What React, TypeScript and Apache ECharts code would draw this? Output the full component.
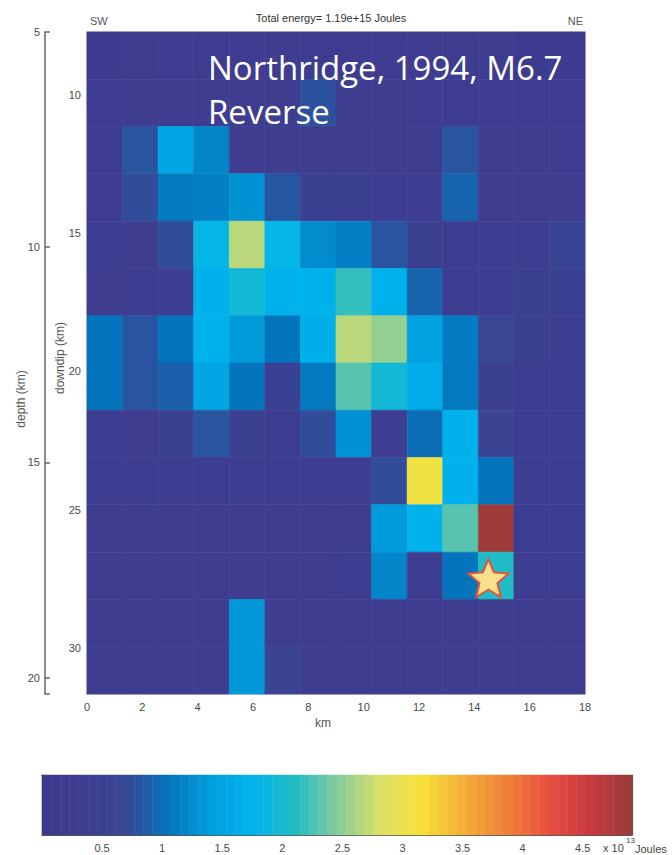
import React, { useEffect, useRef } from "react";
import * as echarts from "echarts";

// ---- axes / ticks ----
const X_TICKS = [0, 2, 4, 6, 8, 10, 12, 14, 16, 18];
const DOWNDIP_TICKS = [10, 15, 20, 25, 30];
const DEPTH_TICKS = [5, 10, 15, 20];
const COLORBAR_TICKS = [0.5, 1, 1.5, 2, 2.5, 3, 3.5, 4, 4.5];

const X_MIN = 0;
const X_MAX = 18;
const DOWNDIP_MIN = 7.73;
const DOWNDIP_MAX = 31.66;
const DEPTH_MIN = 5;
const DIP_DEG = 40;
const ENERGY_MAX = 4.91; // x 10^13 Joules

// ---- radiated energy per subfault (x 10^13 J); rows shallow -> deep, columns SW -> NE ----
const ENERGY_ROWS: number[][] = [
  [0.2, 0.25, 0.3, 0.3, 0.3, 0.35, 0.3, 0.3, 0.3, 0.3, 0.25, 0.25, 0.2, 0.2],
  [0.3, 0.35, 0.35, 0.35, 0.35, 0.35, 0.78, 0.35, 0.35, 0.3, 0.3, 0.3, 0.3, 0.3],
  [0.3, 0.8, 1.55, 1.2, 0.35, 0.35, 0.35, 0.35, 0.35, 0.35, 0.8, 0.35, 0.35, 0.3],
  [0.3, 0.75, 1.1, 1.15, 1.3, 0.82, 0.45, 0.45, 0.4, 0.4, 0.92, 0.35, 0.35, 0.35],
  [0.4, 0.35, 0.75, 1.8, 2.68, 1.8, 1.25, 1.15, 0.8, 0.45, 0.4, 0.4, 0.4, 0.62],
  [0.35, 0.4, 0.4, 1.7, 1.95, 1.72, 1.72, 2.17, 1.72, 0.92, 0.4, 0.4, 0.45, 0.5],
  [1.05, 0.8, 1.05, 1.72, 1.38, 1.05, 1.68, 2.68, 2.52, 1.45, 1.12, 0.65, 0.45, 0.4],
  [1.05, 0.8, 0.9, 1.55, 1.05, 0.5, 1.1, 2.3, 1.95, 1.62, 1.1, 0.45, 0.4, 0.4],
  [0.4, 0.35, 0.45, 0.8, 0.45, 0.4, 0.75, 1.3, 0.4, 1.0, 1.7, 0.55, 0.4, 0.4],
  [0.4, 0.4, 0.4, 0.4, 0.4, 0.4, 0.4, 0.4, 0.75, 3.08, 1.7, 1.05, 0.4, 0.4],
  [0.35, 0.35, 0.35, 0.35, 0.35, 0.35, 0.35, 0.35, 1.38, 1.72, 2.3, 4.85, 0.4, 0.4],
  [0.35, 0.35, 0.35, 0.35, 0.35, 0.35, 0.35, 0.4, 1.2, 0.4, 1.05, 2.1, 0.4, 0.4],
  [0.35, 0.35, 0.35, 0.35, 1.35, 0.35, 0.35, 0.35, 0.35, 0.35, 0.35, 0.35, 0.35, 0.35],
  [0.35, 0.35, 0.35, 0.35, 1.35, 0.55, 0.35, 0.35, 0.35, 0.35, 0.35, 0.35, 0.35, 0.35],
];

// hypocenter [along strike km, downdip km]
const HYPOCENTER = [14.51, 27.47];

// colormap, evenly spaced from 0 to ENERGY_MAX
const COLORMAP = [
  "#3c398d", "#3e3d90", "#384795", "#0474bc", "#009edc",
  "#00b4ee", "#20bcc4", "#84cb9e", "#d8e068", "#f8e23a",
  "#f4ae38", "#ee8238", "#e9503e", "#c8393f", "#953c38",
];
const COLORBAR_STEPS = 64;

const STAR_PATH =
  "path://M100,0 L126.5,63.6 L195.1,69.1 L142.8,113.9 L158.8,180.9 L100,145 L41.2,180.9 L57.2,113.9 L4.9,69.1 L73.5,63.6 Z";

const LABEL_FONT = "Liberation Sans, Arial, sans-serif";
const LABEL_COLOR = "#4a4a4a";

export default function App() {
  const ref = useRef<HTMLDivElement>(null);

  useEffect(() => {
    if (!ref.current) return;
    const chart = echarts.init(ref.current, undefined, { renderer: "svg" });

    const nRows = ENERGY_ROWS.length;
    const nCols = ENERGY_ROWS[0].length;
    const cellW = (X_MAX - X_MIN) / nCols;
    const cellH = (DOWNDIP_MAX - DOWNDIP_MIN) / nRows;
    const depthMax = DEPTH_MIN + (DOWNDIP_MAX - DOWNDIP_MIN) * Math.sin((DIP_DEG * Math.PI) / 180);

    const cells: number[][] = [];
    ENERGY_ROWS.forEach((row, r) =>
      row.forEach((v, c) => {
        cells.push([X_MIN + (c + 0.5) * cellW, DOWNDIP_MIN + (r + 0.5) * cellH, v]);
      })
    );

    const bandW = ENERGY_MAX / COLORBAR_STEPS;
    const bands: number[][] = [];
    for (let i = 0; i < COLORBAR_STEPS; i++) {
      bands.push([i * bandW, (i + 1) * bandW, (i + 0.5) * bandW]);
    }

    const labelStyle = { fontSize: 11, color: LABEL_COLOR, fontFamily: LABEL_FONT };

    const option: any = {
      animation: false,
      backgroundColor: "#ffffff",
      grid: [
        { left: 87, top: 32, width: 498, height: 662, show: true, borderColor: "#c6c6d2", borderWidth: 2, backgroundColor: "transparent" },
        { left: 42, top: 775, width: 590, height: 60, show: false },
      ],
      xAxis: [
        {
          type: "value", gridIndex: 0, min: X_MIN, max: X_MAX,
          axisLine: { show: false, onZero: false }, axisTick: { show: false }, splitLine: { show: false },
          axisLabel: { ...labelStyle, margin: 7, customValues: X_TICKS },
        },
        {
          type: "value", gridIndex: 1, min: 0, max: ENERGY_MAX, position: "bottom",
          axisLine: { show: true, onZero: false, lineStyle: { color: "#555", width: 1.2 } },
          axisTick: { show: true, inside: true, length: 5, customValues: COLORBAR_TICKS, lineStyle: { color: "#333" } },
          splitLine: { show: false },
          axisLabel: { ...labelStyle, margin: 7, customValues: COLORBAR_TICKS },
        },
        {
          type: "value", gridIndex: 1, min: 0, max: ENERGY_MAX, position: "top",
          axisLine: { show: true, onZero: false, lineStyle: { color: "#555", width: 1.2 } },
          axisTick: { show: true, inside: true, length: 5, customValues: COLORBAR_TICKS, lineStyle: { color: "#333" } },
          splitLine: { show: false }, axisLabel: { show: false },
        },
      ],
      yAxis: [
        {
          type: "value", gridIndex: 0, inverse: true, min: DOWNDIP_MIN, max: DOWNDIP_MAX,
          axisLine: { show: false, onZero: false }, axisTick: { show: false }, splitLine: { show: false },
          axisLabel: { ...labelStyle, margin: 6, customValues: DOWNDIP_TICKS },
        },
        {
          type: "value", gridIndex: 0, inverse: true, min: DEPTH_MIN, max: depthMax, position: "left", offset: 42,
          axisLine: { show: true, onZero: false, lineStyle: { color: "#666", width: 1.5 } },
          axisTick: { show: true, inside: true, length: 5, customValues: [...DEPTH_TICKS, depthMax], lineStyle: { color: "#666", width: 1.5 } },
          splitLine: { show: false },
          axisLabel: { ...labelStyle, margin: 5, customValues: DEPTH_TICKS },
        },
        {
          type: "value", gridIndex: 1, min: 0, max: 1, position: "left",
          axisLine: { show: true, onZero: false, lineStyle: { color: "#555", width: 1.2 } },
          axisTick: { show: false }, axisLabel: { show: false }, splitLine: { show: false },
        },
        {
          type: "value", gridIndex: 1, min: 0, max: 1, position: "right",
          axisLine: { show: true, onZero: false, lineStyle: { color: "#555", width: 1.2 } },
          axisTick: { show: false }, axisLabel: { show: false }, splitLine: { show: false },
        },
      ],
      visualMap: {
        type: "continuous", show: false, min: 0, max: ENERGY_MAX, dimension: 2, seriesIndex: [0, 1],
        inRange: { color: COLORMAP },
      },
      series: [
        {
          type: "custom", name: "energy", xAxisIndex: 0, yAxisIndex: 0, data: cells,
          renderItem: (params: any, api: any) => {
            const x = api.value(0);
            const y = api.value(1);
            const p0 = api.coord([x - cellW / 2, y - cellH / 2]);
            const p1 = api.coord([x + cellW / 2, y + cellH / 2]);
            const color = api.visual("color");
            return {
              type: "rect",
              shape: { x: p0[0], y: Math.min(p0[1], p1[1]), width: p1[0] - p0[0], height: Math.abs(p1[1] - p0[1]) },
              style: { fill: color, stroke: color, lineWidth: 0.6 },
            };
          },
        },
        {
          type: "custom", name: "colorbar", xAxisIndex: 1, yAxisIndex: 2, data: bands,
          renderItem: (params: any, api: any) => {
            const p0 = api.coord([api.value(0), 1]);
            const p1 = api.coord([api.value(1), 0]);
            const color = api.visual("color");
            return {
              type: "rect",
              shape: { x: p0[0], y: p0[1], width: p1[0] - p0[0], height: p1[1] - p0[1] },
              style: { fill: color, stroke: color, lineWidth: 0.5 },
            };
          },
        },
        {
          type: "scatter", name: "hypocenter", xAxisIndex: 0, yAxisIndex: 0,
          data: [HYPOCENTER], symbol: STAR_PATH, symbolSize: [40, 38], z: 5,
          itemStyle: { color: "#f9e08c", borderColor: "#e8503c", borderWidth: 2, opacity: 1 },
        },
      ],
      graphic: [
        { type: "text", x: 331, y: 18, style: { text: "Total energy= 1.19e+15 Joules", fontSize: 11, fill: "#333", fontFamily: LABEL_FONT, textAlign: "center", textVerticalAlign: "middle" } },
        { type: "text", x: 90, y: 21, style: { text: "SW", fontSize: 11, fill: "#555", fontFamily: LABEL_FONT, textAlign: "left", textVerticalAlign: "middle" } },
        { type: "text", x: 583, y: 21, style: { text: "NE", fontSize: 11, fill: "#555", fontFamily: LABEL_FONT, textAlign: "right", textVerticalAlign: "middle" } },
        { type: "text", x: 208, y: 67, z: 10, style: { text: "Northridge, 1994, M6.7", fontSize: 33, fill: "#ffffff", fontFamily: "Open Sans", textAlign: "left", textVerticalAlign: "middle" } },
        { type: "text", x: 208, y: 111, z: 10, style: { text: "Reverse", fontSize: 33, fill: "#ffffff", fontFamily: "Open Sans", textAlign: "left", textVerticalAlign: "middle" } },
        { type: "text", x: 323, y: 723, style: { text: "km", fontSize: 12, fill: "#555", fontFamily: LABEL_FONT, textAlign: "center", textVerticalAlign: "middle" } },
        { type: "text", x: 60, y: 358, rotation: Math.PI / 2, style: { text: "downdip (km)", fontSize: 12, fill: "#555", fontFamily: LABEL_FONT, textAlign: "center", textVerticalAlign: "middle" } },
        { type: "text", x: 21, y: 399, rotation: Math.PI / 2, style: { text: "depth (km)", fontSize: 12, fill: "#555", fontFamily: LABEL_FONT, textAlign: "center", textVerticalAlign: "middle" } },
        { type: "text", x: 603, y: 848, style: { text: "x 10", fontSize: 11, fill: "#444", fontFamily: LABEL_FONT, textAlign: "left", textVerticalAlign: "middle" } },
        { type: "text", x: 626, y: 840, style: { text: "13", fontSize: 8, fill: "#444", fontFamily: LABEL_FONT, textAlign: "left", textVerticalAlign: "middle" } },
        { type: "text", x: 635, y: 849, style: { text: "Joules", fontSize: 11, fill: "#444", fontFamily: LABEL_FONT, textAlign: "left", textVerticalAlign: "middle" } },
      ],
    };

    chart.setOption(option);
    return () => chart.dispose();
  }, []);

  return (
    <div
      ref={ref}
      style={{ position: "absolute", left: 0, top: 0, width: 672, height: 855, background: "#fff" }}
    />
  );
}
